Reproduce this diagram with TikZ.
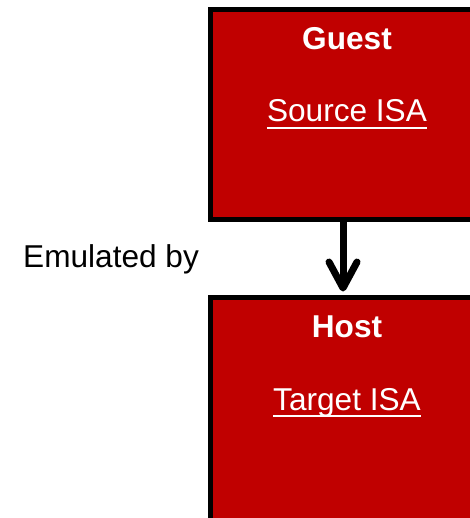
\documentclass[tikz,border=0pt]{standalone}
\usepackage{fontspec}
\setmainfont{Liberation Sans}
\definecolor{boxred}{HTML}{C00000}
\begin{document}
\begin{tikzpicture}[x=1bp,y=-1bp,
  redbox/.style={fill=boxred,inner sep=0pt,outer sep=0pt,minimum width=275bp,anchor=west},
  boxedge/.style={black,line width=5bp},
  boxtitle/.style={text=white,font=\fontsize{31.6bp}{36bp}\selectfont\bfseries,inner sep=0pt,anchor=base},
  boxtext/.style={text=white,font=\fontsize{31.6bp}{36bp}\selectfont,inner sep=0pt,anchor=base},
  uline/.style={white,line width=2.3bp},
  label/.style={text=black,font=\fontsize{31.6bp}{36bp}\selectfont,inner sep=0pt,anchor=base west},
  shaft/.style={black,line width=7bp},
  head/.style={black,line width=7bp,line cap=round,line join=round}]
\fill[white] (0,0) rectangle (470,518);
\useasboundingbox (0,0) rectangle (470,518);
\node[redbox,minimum height=210bp] (guest) at (210.5,114.5) {};
\node[redbox,minimum height=260bp] (host) at (210.5,427.5) {};
\draw[boxedge] ([xshift=3bp]guest.north east) -- (guest.north west) -- (guest.south west) -- ([xshift=3bp]guest.south east);
\draw[boxedge] ([xshift=3bp]host.south east) -- (host.south west) -- (host.north west) -- ([xshift=3bp]host.north east);
\node[boxtitle] (gt) at (347,50) {Guest};
\node[boxtext] (src) at (347,122) {Source ISA};
\draw[uline] ([yshift=-6bp]src.base west) -- ([yshift=-6bp]src.base east);
\node[boxtitle] (ht) at (347,337) {Host};
\node[boxtext] (tgt) at (347,410) {Target ISA};
\draw[uline] ([yshift=-6bp]tgt.base west) -- ([yshift=-6bp]tgt.base east);
\node[label] (emu) at (23,267) {Emulated by};
\coordinate (tip) at (343,288);
\draw[shaft] (tip |- guest.south) -- (tip);
\draw[head] ([shift={(-14,-26)}]tip) -- (tip) -- ([shift={(14,-26)}]tip);
\end{tikzpicture}
\end{document}
